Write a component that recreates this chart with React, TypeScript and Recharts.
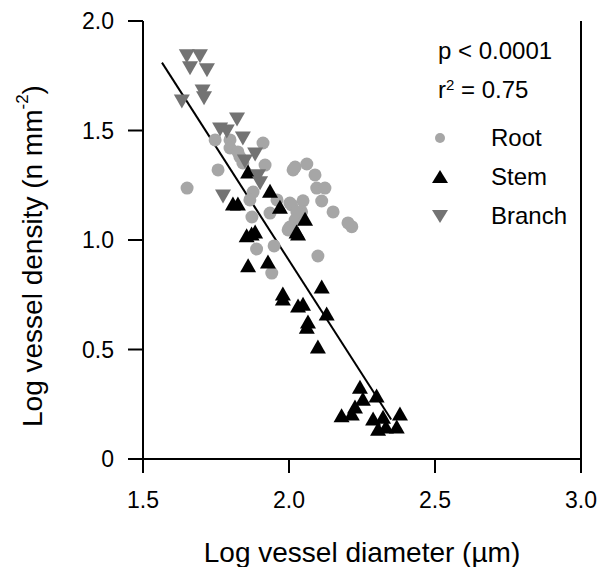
import {
  ScatterChart, Scatter, XAxis, YAxis, ReferenceLine,
} from 'recharts'

// [log diameter, log density]
const rootPoints: [number, number][] = [
  [1.651, 1.237], [1.757, 1.32], [1.747, 1.457], [1.798, 1.457], [1.832, 1.379],
  [1.911, 1.443], [1.918, 1.342], [1.798, 1.42], [1.825, 1.402], [1.842, 1.352],
  [2.014, 1.32], [2.021, 1.333], [2.061, 1.347], [2.089, 1.297], [2.095, 1.237],
  [2.123, 1.237], [2.112, 1.178], [2.048, 1.179], [2.009, 1.16], [2.043, 1.129],
  [2.021, 1.091], [2.151, 1.128], [2.202, 1.078], [2.215, 1.061], [1.877, 1.219],
  [1.959, 1.183], [2.003, 1.169], [1.873, 1.105], [1.935, 1.123], [2.027, 1.128],
  [2.003, 1.059], [1.889, 0.959], [1.949, 0.973], [1.941, 0.849], [2.099, 0.927],
  [1.997, 1.046], [1.866, 1.183],
]

const stemPoints: [number, number][] = [
  [1.86, 1.306], [1.935, 1.219], [1.808, 1.16], [1.825, 1.16], [1.969, 1.146],
  [1.884, 1.032], [2.026, 1.032], [1.855, 1.015], [1.872, 1.023], [2.031, 1.023],
  [1.86, 0.878], [1.928, 0.895], [1.979, 0.749], [1.979, 0.726], [2.112, 0.781],
  [2.031, 0.695], [2.048, 0.703], [2.129, 0.658], [2.065, 0.621], [2.061, 0.598],
  [2.099, 0.507], [2.055, 1.091], [2.243, 0.324], [2.3, 0.284], [2.253, 0.269],
  [2.226, 0.233], [2.18, 0.193], [2.215, 0.201], [2.288, 0.178], [2.322, 0.187],
  [2.38, 0.201], [2.305, 0.132], [2.369, 0.142], [2.332, 0.142],
]

const branchPoints: [number, number][] = [
  [1.65, 1.845], [1.695, 1.845], [1.661, 1.791], [1.719, 1.781], [1.704, 1.685],
  [1.709, 1.654], [1.633, 1.639], [1.822, 1.557], [1.764, 1.511], [1.787, 1.502],
  [1.842, 1.47], [1.884, 1.397], [1.849, 1.365], [1.894, 1.297], [1.901, 1.265],
  [1.774, 1.205],
]

const fitLine: [number, number][] = [[1.565, 1.81], [2.35, 0.18]]

const xTicks = [1.5, 2.0, 2.5, 3.0]
const yTicks = [0, 0.5, 1.0, 1.5, 2.0]

const FONT = 'Arial, "Liberation Sans", sans-serif'
const ROOT_COLOR = '#a6a6a6'
const STEM_COLOR = '#000000'
const BRANCH_COLOR = '#737373'

const toXY = (pts: [number, number][]) => pts.map(([x, y]) => ({ x, y }))

function Circle({ cx, cy }: any) {
  return <circle cx={cx} cy={cy} r={6.5} fill={ROOT_COLOR} />
}

function UpTri({ cx, cy }: any) {
  const h = 14, w = 16
  return (
    <polygon
      points={`${cx},${cy - h * 0.6} ${cx + w / 2},${cy + h * 0.4} ${cx - w / 2},${cy + h * 0.4}`}
      fill={STEM_COLOR}
    />
  )
}

function DownTri({ cx, cy }: any) {
  const h = 14, w = 16
  return (
    <polygon
      points={`${cx},${cy + h * 0.6} ${cx + w / 2},${cy - h * 0.4} ${cx - w / 2},${cy - h * 0.4}`}
      fill={BRANCH_COLOR}
    />
  )
}

const legendItems = [
  { name: 'Root', shape: 'circle' },
  { name: 'Stem', shape: 'up' },
  { name: 'Branch', shape: 'down' },
]

function LegendMarker({ shape }: { shape: string }) {
  return (
    <svg width={20} height={20} style={{ display: 'block' }}>
      {shape === 'circle' && <circle cx={10} cy={10} r={5} fill={ROOT_COLOR} />}
      {shape === 'up' && <polygon points="10,3 18,16 2,16" fill={STEM_COLOR} />}
      {shape === 'down' && <polygon points="2,4 18,4 10,17" fill={BRANCH_COLOR} />}
    </svg>
  )
}

function StatsLegend() {
  return (
    <div
      style={{
        position: 'absolute', top: 31, left: 430, width: 171,
        fontFamily: FONT, fontSize: 24, color: '#000',
      }}
    >
      <div style={{ height: 39, lineHeight: '39px', paddingLeft: 8 }}>p &lt; 0.0001</div>
      <div style={{ height: 39, lineHeight: '39px', paddingLeft: 8 }}>
        r<sup style={{ fontSize: 15, verticalAlign: 'top', lineHeight: '30px' }}>2</sup> = 0.75
      </div>
      <div style={{ marginTop: 9 }}>
        {legendItems.map((it) => (
          <div key={it.name} style={{ height: 39, display: 'flex', alignItems: 'center' }}>
            <span style={{ width: 61, display: 'inline-block' }}>
              <LegendMarker shape={it.shape} />
            </span>
            <span>{it.name}</span>
          </div>
        ))}
      </div>
    </div>
  )
}

export default function App() {
  return (
    <div style={{ position: 'absolute', left: 0, top: 0, width: 601, height: 567, background: '#fff' }}>
      <ScatterChart width={601} height={567} margin={{ top: 21, right: 20, left: 0, bottom: 0 }}>
        <XAxis
          type="number"
          dataKey="x"
          domain={[1.5, 3.0]}
          ticks={xTicks}
          tickFormatter={(v) => v.toFixed(1)}
          height={108}
          tickSize={14}
          tickMargin={19}
          axisLine={{ stroke: '#000', strokeWidth: 2 }}
          tickLine={{ stroke: '#000', strokeWidth: 2 }}
          tick={{ fill: '#000', fontSize: 23, fontFamily: FONT }}
          label={{
            value: 'Log vessel diameter (µm)',
            position: 'insideBottom',
            offset: 5,
            fill: '#000',
            fontSize: 28,
            fontFamily: FONT,
          }}
        />
        <YAxis
          type="number"
          dataKey="y"
          domain={[0, 2.0]}
          ticks={yTicks}
          tickFormatter={(v) => (v === 0 ? '0' : v.toFixed(1))}
          width={143}
          tickSize={15}
          tickMargin={14}
          axisLine={{ stroke: '#000', strokeWidth: 2 }}
          tickLine={{ stroke: '#000', strokeWidth: 2 }}
          tick={{ fill: '#000', fontSize: 23, fontFamily: FONT }}
          label={({ viewBox }: any) => {
            const cx = viewBox.x + 32
            const cy = viewBox.y + viewBox.height / 2 + 16
            return (
              <text
                x={cx}
                y={cy}
                transform={`rotate(-90, ${cx}, ${cy})`}
                textAnchor="middle"
                dominantBaseline="central"
                fontSize={28}
                fontFamily={FONT}
                fill="#000"
              >
                Log vessel density (n mm<tspan dy={-10} fontSize={17}>-2</tspan>
                <tspan dy={10}>)</tspan>
              </text>
            )
          }}
        />
        <ReferenceLine x={3.0} stroke="#000" strokeWidth={2} />
        <ReferenceLine
          segment={fitLine.map(([x, y]) => ({ x, y }))}
          stroke="#000"
          strokeWidth={2}
        />
        <Scatter name="Root" data={toXY(rootPoints)} shape={<Circle />} isAnimationActive={false} />
        <Scatter name="Stem" data={toXY(stemPoints)} shape={<UpTri />} isAnimationActive={false} />
        <Scatter name="Branch" data={toXY(branchPoints)} shape={<DownTri />} isAnimationActive={false} />
      </ScatterChart>
      <StatsLegend />
    </div>
  )
}
